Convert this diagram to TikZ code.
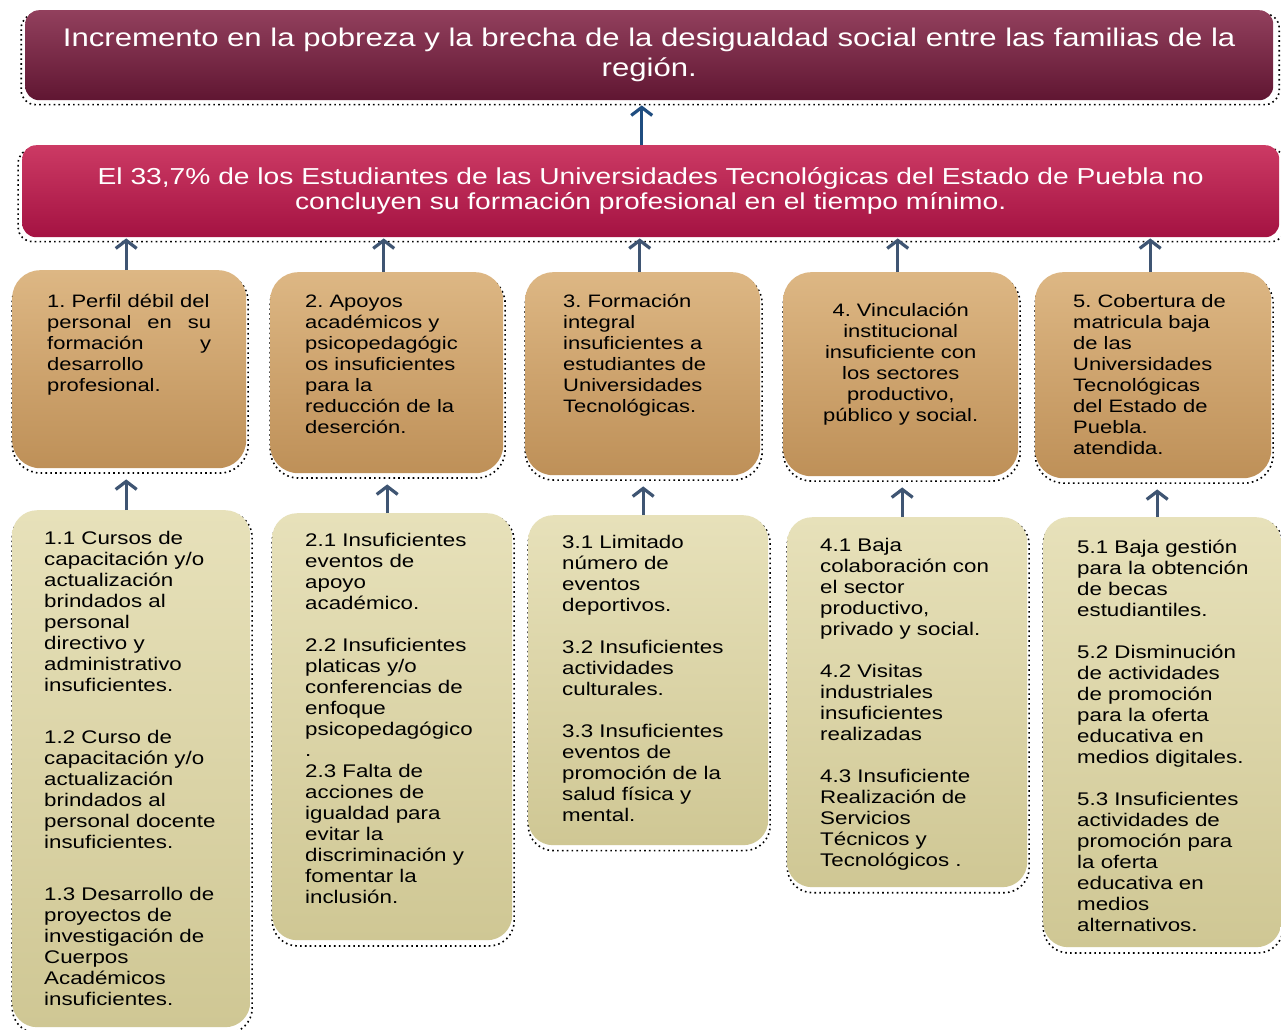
\documentclass[tikz,border=0pt]{standalone}
\usepackage{fontspec}
\setmainfont{Liberation Sans}[FakeStretch=1.22]
\usetikzlibrary{arrows.meta,shadows}
\definecolor{maroonTop}{HTML}{92405D}
\definecolor{maroonMid}{HTML}{6E1C3A}
\definecolor{maroonBot}{HTML}{601632}
\definecolor{crimTop}{HTML}{CC3A64}
\definecolor{crimMid}{HTML}{B3174A}
\definecolor{crimBot}{HTML}{A41242}
\definecolor{tanTop}{HTML}{DDB784}
\definecolor{tanMid}{HTML}{C79B62}
\definecolor{tanBot}{HTML}{BE9058}
\definecolor{khTop}{HTML}{E7E1BA}
\definecolor{khMid}{HTML}{D8D1A3}
\definecolor{khBot}{HTML}{CFC794}
\definecolor{arrBlue}{HTML}{1F4D80}
\definecolor{arrSlate}{HTML}{3F5573}
\newcommand\cbox[5]{\parbox[t][#2pt][t]{#1pt}{\vspace*{#3pt}\raggedright\leftskip=#4pt\relax #5\par}}
\newcommand\ccbox[4]{\parbox[t][#2pt][t]{#1pt}{\vspace*{#3pt}\centering #4\par}}
\frenchspacing
\begin{document}
\frenchspacing
\begin{tikzpicture}[x=1pt,y=-1pt,
  dotshadow/.style={general shadow={fill=none, draw=black, line width=1.6pt, dash pattern=on 1.6pt off 3.2pt, shadow xshift=1pt, shadow yshift=-4pt, shadow scale=1.008}},
  effbox/.style={dotshadow, anchor=north west, rounded corners=14pt, text=white, align=center,
    inner sep=0pt},
  lvlone/.style={dotshadow, anchor=north west, rounded corners=28pt, inner sep=0pt,
    top color=tanTop, middle color=tanMid, bottom color=tanBot,
    font=\fontsize{18}{21}\selectfont},
  lvltwo/.style={dotshadow, anchor=north west, rounded corners=25pt, inner sep=0pt,
    top color=khTop, middle color=khMid, bottom color=khBot,
    font=\fontsize{18.3}{21}\selectfont},
  arr/.style={draw=#1, line width=3.2pt, -{Straight Barb[length=8pt,width=21pt]}}
]
\useasboundingbox[fill=white] (0,0) rectangle (1281,1029);

\node[effbox, minimum width=1248pt, minimum height=90pt,
  top color=maroonTop, middle color=maroonMid, bottom color=maroonBot,
  font=\fontsize{25.5}{30}\selectfont] (efecto) at (25,10)
  {\raisebox{2pt}{\parbox{1240pt}{\centering Incremento en la pobreza y la brecha de la desigualdad social entre las familias de la\\ región.}}};

\node[effbox, minimum width=1257pt, minimum height=92pt,
  top color=crimTop, middle color=crimMid, bottom color=crimBot,
  font=\fontsize{23.1}{25}\selectfont] (prob) at (22,145)
  {\raisebox{3.5pt}{\parbox{1250pt}{\centering El 33,7\% de los Estudiantes de las Universidades Tecnológicas del Estado de Puebla no\\ concluyen su formación profesional en el tiempo mínimo.}}};

% level one
\node[lvlone] (c1) at (12,270) {\cbox{234}{198}{24.5}{35}{1. Perfil débil del\\
\makebox[164pt][s]{personal en su}\\
\makebox[164pt][s]{formación y}\\
desarrollo\\ profesional.}};
\node[lvlone] (c2) at (270,272) {\cbox{233}{201}{22.5}{35}{2. Apoyos\\ académicos y\\ psicopedagógic\\ os insuficientes\\ para la\\ reducción de la\\ deserción.}};
\node[lvlone] (c3) at (525,272) {\cbox{235}{203}{22.5}{38}{3. Formación\\ integral\\ insuficientes a\\ estudiantes de\\ Universidades\\ Tecnológicas.}};
\node[lvlone] (c4) at (783,272) {\ccbox{235}{204}{31.5}{4. Vinculación\\ institucional\\ insuficiente con\\ los sectores\\ productivo,\\ público y social.}};
\node[lvlone] (c5) at (1035,272) {\cbox{236}{206}{22.5}{38}{5. Cobertura de\\ matricula baja\\ de las\\ Universidades\\ Tecnológicas\\ del Estado de\\ Puebla.\\ atendida.}};

% level two
\node[lvltwo] (c1x) at (12,510) {\cbox{238}{517}{21.5}{32}{1.1 Cursos de\\ capacitación y/o\\ actualización\\ brindados al\\ personal\\ directivo y\\ administrativo\\ insuficientes.\\[31pt]
1.2 Curso de\\ capacitación y/o\\ actualización\\ brindados al\\ personal docente\\ insuficientes.\\[31pt]
1.3 Desarrollo de\\ proyectos de\\ investigación de\\ Cuerpos\\ Académicos\\ insuficientes.}};
\node[lvltwo] (c2x) at (272,513) {\cbox{240}{427}{20.5}{33}{2.1 Insuficientes\\ eventos de\\ apoyo\\ académico.\\[21pt]
2.2 Insuficientes\\ platicas y/o\\ conferencias de\\ enfoque\\ psicopedagógico\\ .\\
2.3 Falta de\\ acciones de\\ igualdad para\\ evitar la\\ discriminación y\\ fomentar la\\ inclusión.}};
\node[lvltwo] (c3x) at (528,515) {\cbox{240}{330}{20.5}{34}{3.1 Limitado\\ número de\\ eventos\\ deportivos.\\[21pt]
3.2 Insuficientes\\ actividades\\ culturales.\\[21pt]
3.3 Insuficientes\\ eventos de\\ promoción de la\\ salud física y\\ mental.}};
\node[lvltwo] (c4x) at (787,517) {\cbox{240}{370}{21.5}{33}{4.1 Baja\\ colaboración con\\ el sector\\ productivo,\\ privado y social.\\[21pt]
4.2 Visitas\\ industriales\\ insuficientes\\ realizadas\\[21pt]
4.3 Insuficiente\\ Realización de\\ Servicios\\ Técnicos y\\ Tecnológicos .}};
\node[lvltwo] (c5x) at (1043,517) {\cbox{238}{430}{22.5}{34}{5.1 Baja gestión\\ para la obtención\\ de becas\\ estudiantiles.\\[21pt]
5.2 Disminución\\ de actividades\\ de promoción\\ para la oferta\\ educativa en\\ medios digitales.\\[21pt]
5.3 Insuficientes\\ actividades de\\ promoción para\\ la oferta\\ educativa en\\ medios\\ alternativos.}};

% arrows
\draw[arr=arrBlue, shorten >=5pt] ([xshift=-9pt]prob.north) -- ([xshift=-9pt]prob.north |- efecto.south);
\foreach \n in {c1,c2,c3,c4,c5}{
  \draw[arr=arrSlate, shorten >=1pt] ([xshift=-3pt]\n.north) -- ([xshift=-3pt]\n.north |- prob.south);
  \draw[arr=arrSlate, shorten >=11pt] ([xshift=-5pt]\n x.north) -- ([xshift=-5pt]\n x.north |- \n.south);
}
\end{tikzpicture}
\end{document}
